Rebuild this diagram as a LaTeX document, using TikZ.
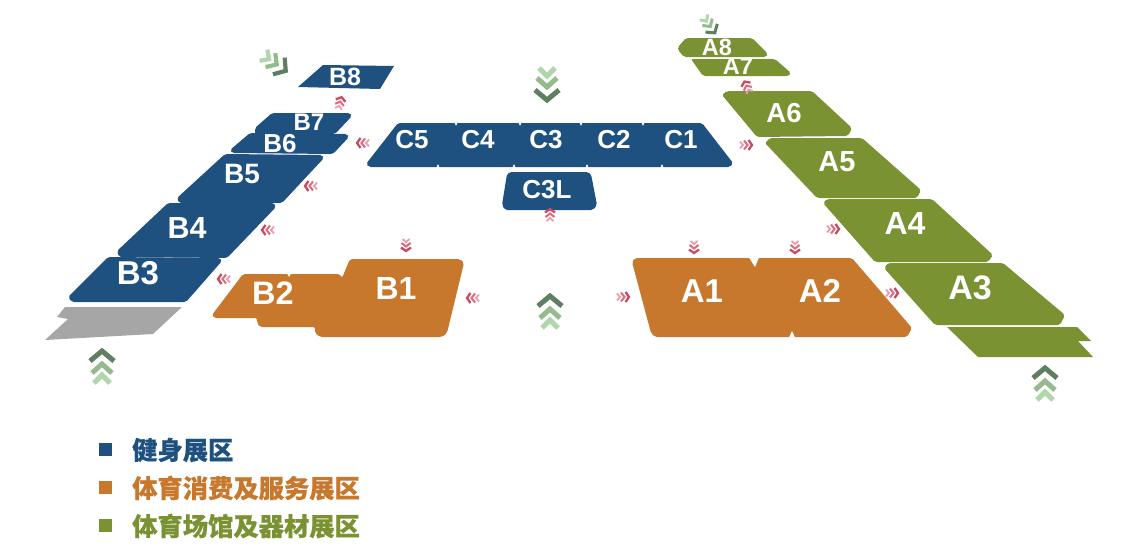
\documentclass[tikz,border=0pt]{standalone}
\usepackage{fontspec}
\setmainfont{Liberation Sans}
\newfontfamily\cjk[BoldFeatures={FakeBold=0.5}]{Noto Sans CJK SC}
\definecolor{fitblue}{HTML}{1F5180}
\definecolor{shoporange}{HTML}{C8782D}
\definecolor{gymolive}{HTML}{7A9232}
\definecolor{waygray}{HTML}{A6A6A6}
\definecolor{gatedark}{HTML}{5F7F62}
\definecolor{gatemid}{HTML}{94BA8E}
\definecolor{gatelight}{HTML}{B2D6AB}
\definecolor{flowdark}{HTML}{C94A62}
\definecolor{flowmid}{HTML}{D9707F}
\definecolor{flowlight}{HTML}{E9A0AC}
\tikzset{
  pics/gatemark/.style={code={
    \draw[gatelight,line width=#1] (-8,18) to (0,10) to (8,18);
    \draw[gatemid,line width=#1] (-10,8) to (0,-1) to (10,8);
    \draw[gatedark,line width=#1] (-12,-4) to (0,-14) to (12,-4);
  }},
  pics/flowmark/.style={code={
    \draw[flowlight,line width=1.9] (-3.5,6) to (0,3) to (3.5,6);
    \draw[flowmid,line width=2.1] (-4.5,2) to (0,-1.5) to (4.5,2);
    \draw[flowdark,line width=2.3] (-5,-2.5) to (0,-6) to (5,-2.5);
  }},
}
\begin{document}
\begin{tikzpicture}[x=1pt,y=-1pt,
    hall/.style={rounded corners=2pt},
    tag/.style={text=white,inner sep=0pt},
    legendbox/.style={inner sep=0pt,minimum size=13pt},
    legendtext/.style={anchor=west,inner sep=0pt,font=\cjk\bfseries\fontsize{25.3}{25.3}\selectfont}]
    \useasboundingbox (0,0) rectangle (1121,554);
    %%west wing
    \fill[fitblue] (323,65) -- (394,66) -- (380,89) -- (298,87) -- cycle;
    \fill[fitblue,hall] (272,113) -- (350,113) -- (352,116) -- (335,134) -- (255,134) -- (255,128) -- cycle;
    \fill[fitblue,hall] (250,133) -- (347,134) -- (349,137) -- (333,154) -- (232,153) -- (230,150) -- cycle;
    \fill[fitblue,hall] (225,154) -- (322,155) -- (324,158) -- (282,203) -- (179,203) -- (177,198) -- cycle;
    \fill[fitblue,hall] (168,203) -- (274,203) -- (276,207) -- (227,258) -- (119,257) -- (117,251) -- cycle;
    \fill[fitblue,hall] (108,257) -- (220,258) -- (222,261) -- (186,302) -- (72,302) -- (68,297) -- cycle;
    \fill[waygray] (65,307) -- (182,307) -- (153,334) -- (45,340) -- (68,319) -- (57,317) -- cycle;
    %%centre block
    \fill[fitblue,hall] (398,123) -- (702,123) -- (733,163) -- (730,167) -- (369,167) -- (366,164) -- cycle;
    \foreach \nx in {456,520,581,643}
      \fill[white] (\nx-1.5,122.5) -- (\nx,126) -- (\nx+1.5,122.5) -- cycle;
    \foreach \nx in {438,514,587,662}
      \fill[white] (\nx-1.5,167.5) -- (\nx,164) -- (\nx+1.5,167.5) -- cycle;
    \fill[fitblue,hall] (510,172) -- (588,172) -- (591,174) -- (597,205) -- (593,210) -- (505,210) -- (502,205) -- (507,174) -- cycle;
    %%orange halls
    \fill[shoporange,hall] (243,274) -- (340,274) -- (342,278) -- (350,259) -- (460,259) -- (464,263) -- (447,333) -- (442,337)
      -- (320,337) -- (315,333) -- (315,327) -- (260,327) -- (257,323) -- (257,318) -- (214,318) -- (212,315) -- cycle;
    \fill[white] (287,273.5) -- (289,277) -- (291,273.5) -- cycle;
    \fill[shoporange,hall] (632,262) -- (635,258) -- (852,258) -- (912,328) -- (907,337) -- (655,337) -- (651,333) -- cycle;
    \fill[white] (749,257.5) -- (755,267) -- (759,257.5) -- cycle;
    \fill[white] (789,337.5) -- (792,331) -- (795,337.5) -- cycle;
    %%east wing
    \fill[gymolive,hall] (686,38) -- (752,38) -- (768,54) -- (766,57) -- (684,57) -- (678,50) -- (678,47) -- cycle;
    \fill[gymolive,hall] (691,59) -- (775,59) -- (791,73) -- (789,76) -- (703,76) -- cycle;
    \fill[gymolive,hall] (722,95) -- (727,91) -- (812,91) -- (852,128) -- (848,136) -- (757,137) -- cycle;
    \fill[gymolive,hall] (765,143) -- (770,138) -- (862,138) -- (921,190) -- (917,198) -- (817,198) -- cycle;
    \fill[gymolive,hall] (823,203) -- (827,199) -- (932,199) -- (993,255) -- (988,262) -- (875,262) -- cycle;
    \fill[gymolive,hall] (884,268) -- (888,263) -- (1003,263) -- (1065,315) -- (1060,325) -- (935,325) -- cycle;
    \fill[gymolive] (947,327) -- (1077,327) -- (1091,341) -- (1078,341) -- (1093,357) -- (978,357) -- cycle;
    %%hall labels
    \draw
    (345,77) node[tag,font=\bfseries\fontsize{25}{25}\selectfont] (b8) {B8}
    (309,122) node[tag,font=\bfseries\fontsize{24}{24}\selectfont] (b7) {B7}
    (280,144) node[tag,font=\bfseries\fontsize{26}{26}\selectfont] (b6) {B6}
    (242,174) node[tag,font=\bfseries\fontsize{28}{28}\selectfont] (b5) {B5}
    (187,228) node[tag,font=\bfseries\fontsize{30.5}{30.5}\selectfont] (b4) {B4}
    (138,273) node[tag,font=\bfseries\fontsize{33}{33}\selectfont] (b3) {B3}
    (273,293) node[tag,font=\bfseries\fontsize{32.5}{32.5}\selectfont] (b2) {B2}
    (396,288) node[tag,font=\bfseries\fontsize{32}{32}\selectfont] (b1) {B1};
    \draw
    (412,140) node[tag,font=\bfseries\fontsize{26}{26}\selectfont] (c5) {C5}
    (478,140) node[tag,font=\bfseries\fontsize{26}{26}\selectfont] (c4) {C4}
    (546,140) node[tag,font=\bfseries\fontsize{26}{26}\selectfont] (c3) {C3}
    (614,140) node[tag,font=\bfseries\fontsize{26}{26}\selectfont] (c2) {C2}
    (681,140) node[tag,font=\bfseries\fontsize{26}{26}\selectfont] (c1) {C1}
    (547,190) node[tag,font=\bfseries\fontsize{26}{26}\selectfont] (c3l) {C3L};
    \draw
    (702,291) node[tag,font=\bfseries\fontsize{33}{33}\selectfont] (a1) {A1}
    (820,291) node[tag,font=\bfseries\fontsize{33}{33}\selectfont] (a2) {A2}
    (970,288) node[tag,font=\bfseries\fontsize{34}{34}\selectfont] (a3) {A3}
    (905,223) node[tag,font=\bfseries\fontsize{32}{32}\selectfont] (a4) {A4}
    (837,162) node[tag,font=\bfseries\fontsize{29}{29}\selectfont] (a5) {A5}
    (784,113) node[tag,font=\bfseries\fontsize{27.5}{27.5}\selectfont] (a6) {A6}
    (738,66) node[tag,font=\bfseries\fontsize{23.5}{23.5}\selectfont] (a7) {A7}
    (717,47) node[tag,font=\bfseries\fontsize{23.5}{23.5}\selectfont] (a8) {A8};
    %%entrances
    \pic at (102,365) {gatemark=5};
    \pic at (550,310) {gatemark=5};
    \pic at (1045,382) {gatemark=5};
    \pic[rotate=180] at (547,86) {gatemark=5};
    \pic[rotate=-125,scale=.85] at (276,64) {gatemark=4.2};
    \pic[rotate=-145,scale=.6] at (710,26) {gatemark=3};
    %%flow arrows
    \foreach \px/\py in {363/143,311/186,268/230,224/279,473/298}
      \pic[rotate=90] at (\px,\py) {flowmark};
    \foreach \px/\py in {623/297,746/145,833/229,892/293}
      \pic[rotate=-90] at (\px,\py) {flowmark};
    \foreach \px/\py in {406/245,694/247,795/247}
      \pic[rotate=180] at (\px,\py) {flowmark};
    \pic at (550,215) {flowmark};
    \pic[rotate=-15] at (340,103) {flowmark};
    \pic[rotate=25] at (747,87) {flowmark};
    %%legend
    \draw
    (105,449) node[legendbox,fill=fitblue] (keyfit) {}
    (105,487) node[legendbox,fill=shoporange] (keyshop) {}
    (105,525) node[legendbox,fill=gymolive] (keygym) {}
    (132,450) node[legendtext,text=fitblue] (textfit) {健身展区}
    (132,488) node[legendtext,text=shoporange] (textshop) {体育消费及服务展区}
    (132,526) node[legendtext,text=gymolive] (textgym) {体育场馆及器材展区};
\end{tikzpicture}
\end{document}
